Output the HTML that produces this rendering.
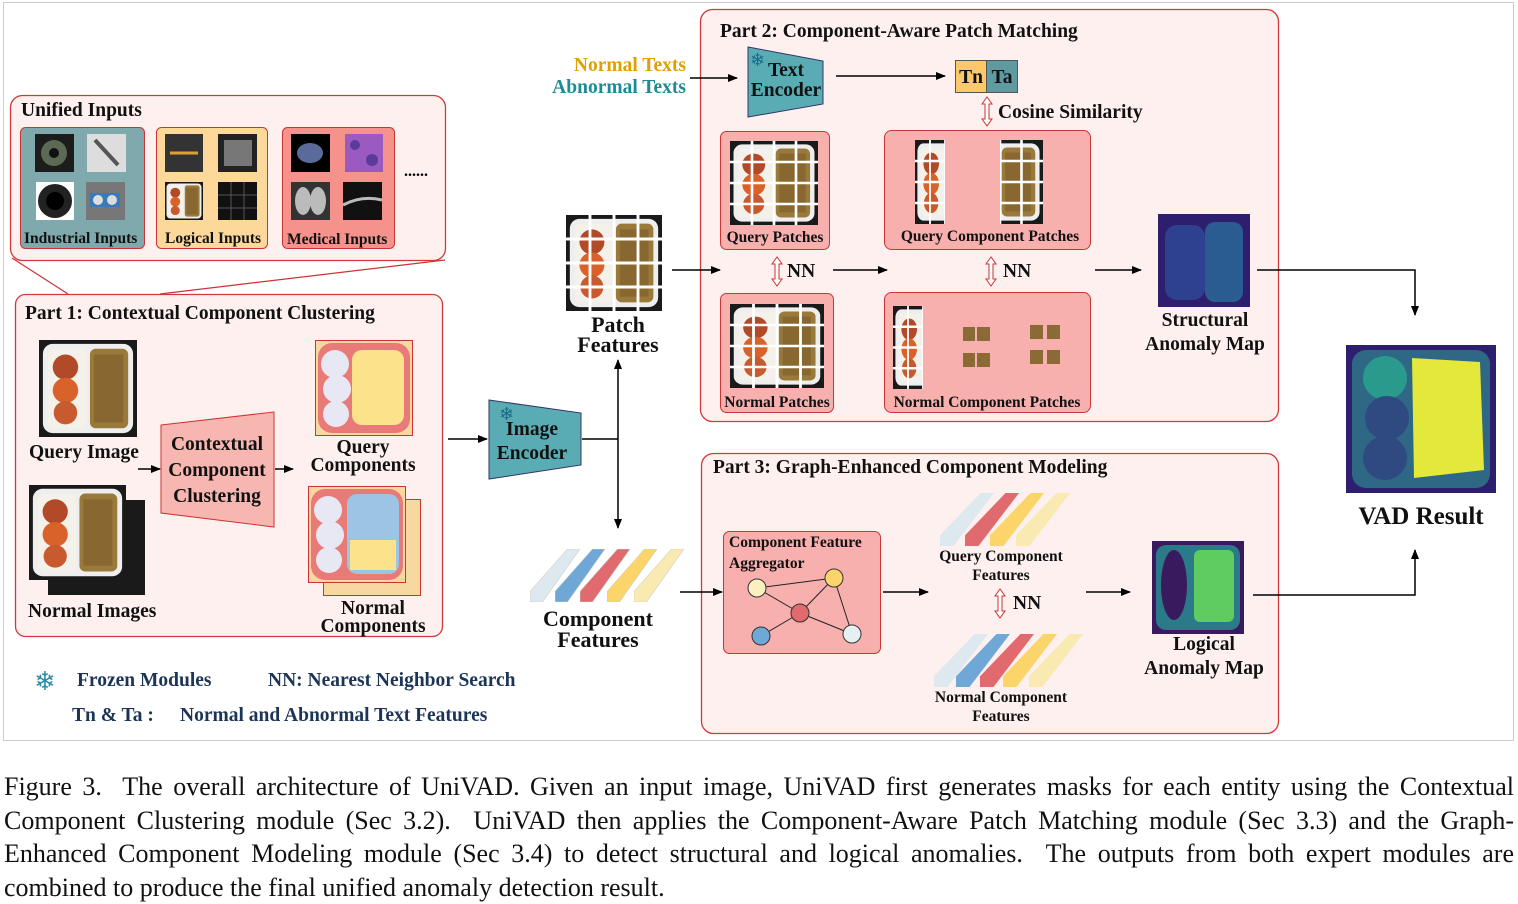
<!DOCTYPE html>
<html><head><meta charset="utf-8"><style>
body{margin:0;background:#fff;width:1518px;height:904px;overflow:hidden}
svg{position:absolute;left:0;top:0}
.t{font-family:"Liberation Serif",serif;font-weight:bold;fill:#111}
.cap{position:absolute;left:4px;width:1510px;font-family:"Liberation Serif",serif;font-size:26px;line-height:33.5px;top:770px;color:#111}
.cap div{text-align:justify;text-align-last:justify;white-space:nowrap;height:33.5px}
.cap div.l{text-align-last:left}
</style></head><body>
<svg width="1518" height="760" viewBox="0 0 1518 760">
<defs>
<marker id="ah" markerWidth="10" markerHeight="8" refX="9" refY="4" orient="auto" markerUnits="userSpaceOnUse"><path d="M0,0L10,4L0,8z" fill="#000"/></marker>
<symbol id="tray" viewBox="0 0 100 100" preserveAspectRatio="none">
<rect width="100" height="100" fill="#1a1a1a"/>
<rect x="4" y="4" width="92" height="92" rx="10" fill="#eee"/>
<rect x="9" y="9" width="40" height="82" rx="6" fill="#f4f0ea"/>
<circle cx="27" cy="28" r="13" fill="#b24a2a"/><circle cx="27" cy="52" r="13" fill="#d9622a"/><circle cx="27" cy="75" r="12" fill="#c85a30"/>
<rect x="52" y="9" width="39" height="82" rx="6" fill="#9a7a3a"/>
<rect x="56" y="15" width="30" height="70" fill="#7d5a2a" opacity=".6"/>
</symbol>
<symbol id="grid" viewBox="0 0 100 100" preserveAspectRatio="none">
<use href="#tray" width="100" height="100"/>
<g stroke="#fff" stroke-width="3"><line x1="25" y1="0" x2="25" y2="100"/><line x1="50" y1="0" x2="50" y2="100"/><line x1="75" y1="0" x2="75" y2="100"/><line x1="0" y1="25" x2="100" y2="25"/><line x1="0" y1="50" x2="100" y2="50"/><line x1="0" y1="75" x2="100" y2="75"/></g>
</symbol>
<symbol id="bar" viewBox="0 0 40 60" preserveAspectRatio="none"><path d="M0,48L30,0L40,0L10,60L0,60z"/></symbol>
</defs>
<rect x="3.5" y="2.5" width="1510" height="738" fill="#fff" stroke="#ccc"/>

<!-- Unified inputs -->
<line x1="12" y1="258" x2="68" y2="294" stroke="#c33" stroke-width="1.2"/>
<line x1="445" y1="260" x2="160" y2="294" stroke="#c33" stroke-width="1.2"/>
<rect x="10.5" y="95.5" width="435" height="165" rx="12" fill="#fdf0ef" stroke="#d03a3a" stroke-width="1.3"/>
<text class="t" x="21" y="116" font-size="19.5">Unified Inputs</text>
<rect x="20.5" y="127.5" width="124" height="121" rx="5" fill="#7fa9ad" stroke="#c33"/>
<rect x="156.5" y="127.5" width="111" height="121" rx="5" fill="#fcd99b" stroke="#c33"/>
<rect x="282.5" y="127.5" width="112" height="121" rx="5" fill="#f5928b" stroke="#c33"/>
<rect x="35" y="134" width="39" height="38" fill="#1c1c1c"/><circle cx="54" cy="153" r="13" fill="#5c6a55"/><circle cx="54" cy="153" r="5" fill="#111"/>
<rect x="87" y="134" width="39" height="38" fill="#ddd"/><line x1="95" y1="140" x2="118" y2="165" stroke="#555" stroke-width="4"/>
<rect x="36" y="182" width="38" height="38" fill="#fff"/><circle cx="55" cy="201" r="17" fill="#222"/><circle cx="55" cy="201" r="9" fill="#000"/>
<rect x="86" y="182" width="39" height="38" fill="#777"/><rect x="90" y="193" width="30" height="14" fill="#3a7ab8"/><circle cx="98" cy="200" r="5" fill="#ddd"/><circle cx="112" cy="200" r="5" fill="#ddd"/>
<rect x="165" y="134" width="38" height="38" fill="#333"/><line x1="170" y1="153" x2="198" y2="153" stroke="#e0a030" stroke-width="3"/>
<rect x="218" y="134" width="39" height="38" fill="#222"/><rect x="224" y="140" width="28" height="26" fill="#777"/>
<use href="#tray" x="165" y="182" width="38" height="38"/>
<rect x="218" y="182" width="39" height="38" fill="#111"/><g stroke="#555" stroke-width="1"><line x1="218" y1="195" x2="257" y2="195"/><line x1="218" y1="208" x2="257" y2="208"/><line x1="231" y1="182" x2="231" y2="220"/><line x1="244" y1="182" x2="244" y2="220"/></g>
<rect x="291" y="134" width="39" height="38" fill="#000"/><ellipse cx="310" cy="153" rx="13" ry="10" fill="#5a6a9a"/>
<rect x="345" y="134" width="38" height="38" fill="#9a5ac0"/><circle cx="355" cy="145" r="5" fill="#5a3a9a"/><circle cx="372" cy="160" r="6" fill="#5a3a9a"/>
<rect x="291" y="182" width="39" height="38" fill="#333"/><ellipse cx="303" cy="201" rx="8" ry="14" fill="#bbb"/><ellipse cx="318" cy="201" rx="8" ry="14" fill="#bbb"/>
<rect x="343" y="182" width="39" height="38" fill="#111"/><path d="M343,205Q362,195 382,200" stroke="#bbb" stroke-width="3" fill="none"/>
<text x="404" y="176" font-size="16" font-weight="bold" font-family="Liberation Serif">......</text>
<text class="t" x="24" y="243" font-size="15.5">Industrial Inputs</text>
<text class="t" x="165" y="243" font-size="15.5">Logical Inputs</text>
<text class="t" x="287" y="244" font-size="15.5">Medical Inputs</text>

<!-- Part 1 -->
<rect x="15.5" y="294.5" width="427" height="342" rx="10" fill="#fdf0ef" stroke="#d03a3a" stroke-width="1.3"/>
<text class="t" x="25" y="319" font-size="19.5">Part 1: Contextual Component Clustering</text>
<use href="#tray" x="39" y="340" width="98" height="97"/>
<text class="t" x="29" y="458" font-size="19.5">Query Image</text>
<rect x="48" y="500" width="97" height="95" fill="#1a1a1a"/>
<use href="#tray" x="29" y="485" width="97" height="95"/>
<text class="t" x="28" y="617" font-size="19.5">Normal Images</text>
<path d="M161,425L274,412L274,527L161,513z" fill="#f8b6b0" stroke="#c33"/>
<text class="t" x="217" y="450" font-size="19.5" text-anchor="middle">Contextual</text>
<text class="t" x="217" y="476" font-size="19.5" text-anchor="middle">Component</text>
<text class="t" x="217" y="502" font-size="19.5" text-anchor="middle">Clustering</text>
<line x1="138" y1="469" x2="160" y2="469" stroke="#000" stroke-width="1.5" marker-end="url(#ah)"/>
<line x1="275" y1="469" x2="293" y2="469" stroke="#000" stroke-width="1.5" marker-end="url(#ah)"/>
<rect x="315.5" y="340.5" width="97" height="95" fill="#f7d8a0" stroke="#c33"/>
<rect x="318" y="343" width="92" height="90" rx="14" fill="#e87a78"/>
<rect x="352" y="350" width="52" height="75" rx="10" fill="#fce28a"/>
<circle cx="335" cy="364" r="14" fill="#e8e8f4"/><circle cx="337" cy="389" r="14" fill="#e8e8f4"/><circle cx="336" cy="414" r="13" fill="#e8e8f4"/>
<text class="t" x="363" y="453" font-size="19.5" text-anchor="middle">Query</text>
<text class="t" x="363" y="471" font-size="19.5" text-anchor="middle">Components</text>
<rect x="323.5" y="499.5" width="97" height="96" fill="#f7d8a0" stroke="#c33"/>
<rect x="308.5" y="486.5" width="97" height="96" fill="#f7d8a0" stroke="#c33"/>
<rect x="311" y="489" width="92" height="91" rx="14" fill="#e87a78"/>
<rect x="347" y="494" width="52" height="80" rx="10" fill="#9cc4e4"/><rect x="350" y="540" width="46" height="30" fill="#fce28a"/>
<circle cx="328" cy="510" r="14" fill="#e8e8f4"/><circle cx="330" cy="535" r="14" fill="#e8e8f4"/><circle cx="329" cy="560" r="13" fill="#e8e8f4"/>
<text class="t" x="373" y="614" font-size="19.5" text-anchor="middle">Normal</text>
<text class="t" x="373" y="632" font-size="19.5" text-anchor="middle">Components</text>

<!-- legend -->
<text x="45" y="690" font-size="26" fill="#2a8aa8" text-anchor="middle" font-family="DejaVu Sans">❄</text>
<text class="t" x="77" y="686" font-size="19.5" style="fill:#1c3557">Frozen Modules</text>
<text class="t" x="268" y="686" font-size="19.5" style="fill:#1c3557">NN:  Nearest Neighbor Search</text>
<text class="t" x="72" y="721" font-size="19.5" style="fill:#1c3557">Tn &amp; Ta :</text>
<text class="t" x="180" y="721" font-size="19.5" style="fill:#1c3557">Normal and Abnormal Text Features</text>

<!-- Part 2 -->
<rect x="700.5" y="9.5" width="578" height="412" rx="12" fill="#fdf0ef" stroke="#d03a3a" stroke-width="1.3"/>
<!-- Part 3 -->
<rect x="701.5" y="453.5" width="577" height="280" rx="12" fill="#fdf0ef" stroke="#d03a3a" stroke-width="1.3"/>

<!-- image encoder -->
<line x1="448" y1="439" x2="487" y2="439" stroke="#000" stroke-width="1.5" marker-end="url(#ah)"/>
<path d="M489,400L581,413L581,465L489,479z" fill="#5aacb4" stroke="#336"/>
<text x="499" y="420" font-size="18" fill="#1e6a8a" font-family="DejaVu Sans">❄</text>
<text class="t" x="532" y="435" font-size="19.5" text-anchor="middle">Image</text>
<text class="t" x="532" y="459" font-size="19.5" text-anchor="middle">Encoder</text>
<line x1="582" y1="439" x2="618" y2="439" stroke="#000" stroke-width="1.5"/>
<line x1="618" y1="439" x2="618" y2="360" stroke="#000" stroke-width="1.5" marker-end="url(#ah)"/>
<line x1="618" y1="439" x2="618" y2="528" stroke="#000" stroke-width="1.5" marker-end="url(#ah)"/>
<use href="#grid" x="566" y="215" width="96" height="96"/>
<text class="t" x="618" y="332" font-size="22" text-anchor="middle">Patch</text>
<text class="t" x="618" y="352" font-size="22" text-anchor="middle">Features</text>
<line x1="672" y1="270" x2="720" y2="270" stroke="#000" stroke-width="1.5" marker-end="url(#ah)"/>
<g stroke="#ccc" stroke-width=".5">
<use href="#bar" x="530" y="549" width="50" height="53" fill="#dde9ee"/>
<use href="#bar" x="555" y="549" width="50" height="53" fill="#6fa8d6"/>
<use href="#bar" x="580" y="549" width="50" height="53" fill="#e06a6e"/>
<use href="#bar" x="607" y="549" width="50" height="53" fill="#fbd46a"/>
<use href="#bar" x="634" y="549" width="50" height="53" fill="#f8eab0"/>
</g>
<text class="t" x="598" y="626" font-size="22" text-anchor="middle">Component</text>
<text class="t" x="598" y="647" font-size="22" text-anchor="middle">Features</text>
<line x1="680" y1="592" x2="722" y2="592" stroke="#000" stroke-width="1.5" marker-end="url(#ah)"/>

<text class="t" x="720" y="37" font-size="19.5">Part 2: Component-Aware Patch Matching</text>
<text class="t" x="686" y="71" font-size="19.5" text-anchor="end" style="fill:#e0a000">Normal Texts</text>
<text class="t" x="686" y="93" font-size="19.5" text-anchor="end" style="fill:#1e8a96">Abnormal Texts</text>
<line x1="690" y1="78" x2="737" y2="78" stroke="#000" stroke-width="1.5" marker-end="url(#ah)"/>
<path d="M748,47L823,61L823,104L748,117z" fill="#5aacb4" stroke="#336"/>
<text x="750" y="66" font-size="18" fill="#1e6a8a" font-family="DejaVu Sans">❄</text>
<text class="t" x="786" y="76" font-size="19.5" text-anchor="middle">Text</text>
<text class="t" x="786" y="96" font-size="19.5" text-anchor="middle">Encoder</text>
<line x1="836" y1="76" x2="945" y2="76" stroke="#000" stroke-width="1.5" marker-end="url(#ah)"/>
<rect x="955.5" y="60.5" width="31" height="32" fill="#fcc96a" stroke="#555"/>
<rect x="986.5" y="60.5" width="31" height="32" fill="#5f9aa0" stroke="#555"/>
<text class="t" x="971" y="83" font-size="19.5" text-anchor="middle">Tn</text>
<text class="t" x="1002" y="83" font-size="19.5" text-anchor="middle">Ta</text>
<g fill="#fff" stroke="#c33" stroke-width="1">
<path d="M987,97l-5,7h3v15h-3l5,7l5,-7h-3v-15h3z"/>
<path d="M777,257l-5,7h3v15h-3l5,7l5,-7h-3v-15h3z"/>
<path d="M991,257l-5,7h3v15h-3l5,7l5,-7h-3v-15h3z"/>
<path d="M1000,589l-5,7h3v15h-3l5,7l5,-7h-3v-15h3z"/>
</g>
<text class="t" x="998" y="118" font-size="19.5">Cosine Similarity</text>
<rect x="720.5" y="131.5" width="109" height="118" rx="6" fill="#f8b0ae" stroke="#c33"/>
<use href="#grid" x="730" y="141" width="88" height="84"/>
<text class="t" x="775" y="242" font-size="15.5" text-anchor="middle">Query Patches</text>
<rect x="884.5" y="130.5" width="206" height="119" rx="7" fill="#f8b0ae" stroke="#c33"/>
<svg x="915" y="140" width="30" height="84" viewBox="0 0 50 100" preserveAspectRatio="none"><use href="#grid" width="100" height="100"/></svg>
<svg x="1000" y="140" width="43" height="84" viewBox="50 0 50 100" preserveAspectRatio="none"><use href="#grid" width="100" height="100"/></svg>
<text class="t" x="990" y="241" font-size="15.5" text-anchor="middle">Query Component Patches</text>
<text class="t" x="787" y="277" font-size="19.5">NN</text>
<text class="t" x="1003" y="277" font-size="19.5">NN</text>
<line x1="833" y1="270" x2="887" y2="270" stroke="#000" stroke-width="1.5" marker-end="url(#ah)"/>
<line x1="1095" y1="270" x2="1141" y2="270" stroke="#000" stroke-width="1.5" marker-end="url(#ah)"/>
<rect x="720.5" y="293.5" width="113" height="119" rx="6" fill="#f8b0ae" stroke="#c33"/>
<use href="#grid" x="730" y="304" width="94" height="84"/>
<text class="t" x="777" y="407" font-size="15.5" text-anchor="middle">Normal Patches</text>
<rect x="884.5" y="292.5" width="206" height="120" rx="7" fill="#f8b0ae" stroke="#c33"/>
<svg x="893" y="306" width="30" height="83" viewBox="0 0 50 100" preserveAspectRatio="none"><use href="#grid" width="100" height="100"/></svg>
<g fill="#8a6a35"><rect x="963" y="327" width="12" height="14"/><rect x="977" y="327" width="13" height="14"/><rect x="963" y="353" width="12" height="14"/><rect x="977" y="353" width="13" height="14"/>
<rect x="1030" y="325" width="13" height="14"/><rect x="1047" y="325" width="13" height="14"/><rect x="1030" y="350" width="13" height="14"/><rect x="1047" y="350" width="13" height="14"/></g>
<text class="t" x="987" y="407" font-size="15.5" text-anchor="middle">Normal Component Patches</text>
<rect x="1158" y="214" width="92" height="93" fill="#2e1f6e"/>
<rect x="1165" y="225" width="40" height="75" rx="12" fill="#2e4a9a" opacity=".8"/><rect x="1205" y="222" width="38" height="80" rx="10" fill="#2a6c9a" opacity=".8"/>
<text class="t" x="1205" y="326" font-size="19.5" text-anchor="middle">Structural</text>
<text class="t" x="1205" y="350" font-size="19.5" text-anchor="middle">Anomaly Map</text>
<polyline points="1257,270 1415,270 1415,315" fill="none" stroke="#000" stroke-width="1.5" marker-end="url(#ah)"/>

<!-- VAD -->
<rect x="1346" y="345" width="150" height="148" fill="#2e1f6e"/>
<rect x="1352" y="350" width="138" height="138" rx="14" fill="#2e7a8a" opacity=".8"/>
<circle cx="1385" cy="378" r="22" fill="#2a9a8c"/><circle cx="1387" cy="418" r="22" fill="#2e4a80"/><circle cx="1385" cy="458" r="22" fill="#2e4a80"/>
<path d="M1412,358L1480,362L1484,470L1414,478z" fill="#e4e83a"/>
<text class="t" x="1421" y="524" font-size="25" text-anchor="middle">VAD Result</text>

<text class="t" x="713" y="473" font-size="19.5">Part 3: Graph-Enhanced Component Modeling</text>
<rect x="723.5" y="531.5" width="157" height="122" rx="6" fill="#f8b0ae" stroke="#c33"/>
<text class="t" x="729" y="547" font-size="15.5">Component Feature</text>
<text class="t" x="729" y="568" font-size="15.5">Aggregator</text>
<g stroke="#222" stroke-width="1"><line x1="757" y1="588" x2="834" y2="578"/><line x1="757" y1="588" x2="800" y2="613"/><line x1="834" y1="578" x2="800" y2="613"/><line x1="834" y1="578" x2="852" y2="634"/><line x1="800" y1="613" x2="852" y2="634"/><line x1="800" y1="613" x2="761" y2="636"/></g>
<circle cx="757" cy="588" r="9" fill="#fdf0c0" stroke="#333"/><circle cx="834" cy="578" r="9" fill="#fbd46a" stroke="#333"/><circle cx="800" cy="613" r="9" fill="#e06a6e" stroke="#333"/><circle cx="761" cy="636" r="9" fill="#6fa8d6" stroke="#333"/><circle cx="852" cy="634" r="9" fill="#e4f0f2" stroke="#333"/>
<line x1="883" y1="592" x2="928" y2="592" stroke="#000" stroke-width="1.5" marker-end="url(#ah)"/>
<use href="#bar" x="940" y="493" width="54" height="53" fill="#dde9ee"/>
<use href="#bar" x="965" y="493" width="54" height="53" fill="#e06a6e"/>
<use href="#bar" x="990" y="493" width="54" height="53" fill="#fbd46a"/>
<use href="#bar" x="1016" y="493" width="54" height="53" fill="#f8eab0"/>
<text class="t" x="1001" y="561" font-size="15.5" text-anchor="middle">Query Component</text>
<text class="t" x="1001" y="580" font-size="15.5" text-anchor="middle">Features</text>
<text class="t" x="1013" y="609" font-size="19.5">NN</text>
<use href="#bar" x="934" y="634" width="54" height="53" fill="#dde9ee"/>
<use href="#bar" x="956" y="634" width="54" height="53" fill="#6fa8d6"/>
<use href="#bar" x="980" y="634" width="54" height="53" fill="#e06a6e"/>
<use href="#bar" x="1003" y="634" width="54" height="53" fill="#fbd46a"/>
<use href="#bar" x="1029" y="634" width="54" height="53" fill="#f8eab0"/>
<text class="t" x="1001" y="702" font-size="15.5" text-anchor="middle">Normal Component</text>
<text class="t" x="1001" y="721" font-size="15.5" text-anchor="middle">Features</text>
<line x1="1086" y1="592" x2="1130" y2="592" stroke="#000" stroke-width="1.5" marker-end="url(#ah)"/>
<rect x="1152" y="541" width="92" height="93" fill="#3a1a5e"/>
<rect x="1156" y="545" width="84" height="85" rx="10" fill="#2a7a8a"/>
<ellipse cx="1174" cy="585" rx="13" ry="35" fill="#3a1a5e"/>
<rect x="1194" y="550" width="40" height="72" rx="6" fill="#5ecc60"/>
<text class="t" x="1204" y="650" font-size="19.5" text-anchor="middle">Logical</text>
<text class="t" x="1204" y="674" font-size="19.5" text-anchor="middle">Anomaly Map</text>
<polyline points="1253,595 1415,595 1415,550" fill="none" stroke="#000" stroke-width="1.5" marker-end="url(#ah)"/>
</svg>
<div class="cap">
<div>Figure 3.&nbsp; The overall architecture of UniVAD. Given an input image, UniVAD first generates masks for each entity using the Contextual</div>
<div>Component Clustering module (Sec 3.2).&nbsp; UniVAD then applies the Component-Aware Patch Matching module (Sec 3.3) and the Graph-</div>
<div>Enhanced Component Modeling module (Sec 3.4) to detect structural and logical anomalies.&nbsp; The outputs from both expert modules are</div>
<div class="l">combined to produce the final unified anomaly detection result.</div>
</div>
</body></html>
